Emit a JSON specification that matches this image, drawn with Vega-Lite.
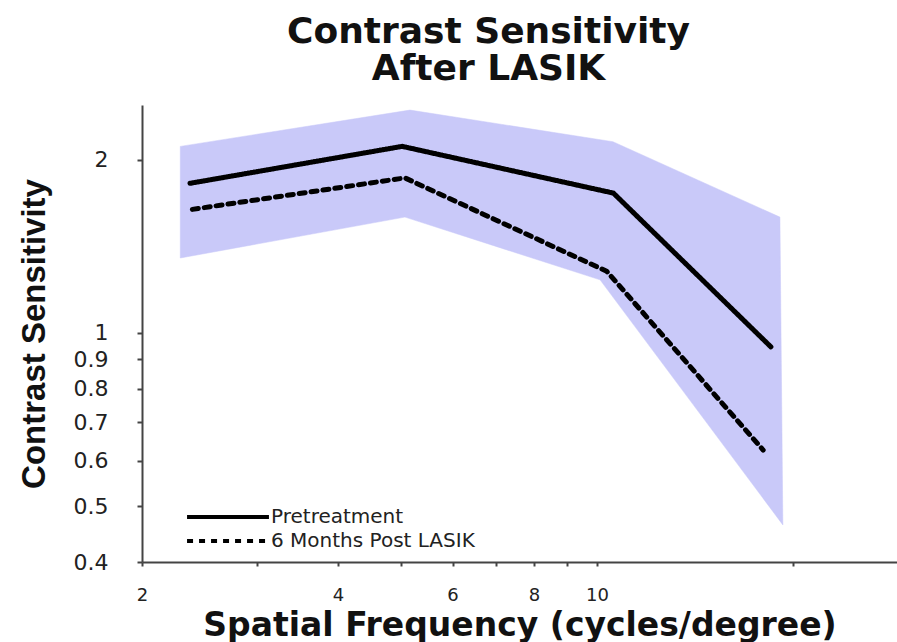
{
  "$schema": "https://vega.github.io/schema/vega-lite/v6.json",
  "width": 755,
  "height": 457,
  "autosize": {"type": "none"},
  "padding": {"left": 142, "top": 105, "right": 0, "bottom": 80},
  "background": "white",
  "config": {"view": {"stroke": null}, "axis": {"grid": false}},
  "title": {
    "text": ["Contrast Sensitivity", "After LASIK"],
    "font": "DejaVu Sans",
    "fontSize": 36,
    "fontWeight": "bold",
    "color": "#111111",
    "lineHeight": 37,
    "anchor": "middle",
    "dx": -31,
    "offset": 17
  },
  "datasets": {
    "band": [
      {"i": 0, "freq": 2.29, "cs": 2.11},
      {"i": 1, "freq": 5.16, "cs": 2.44},
      {"i": 2, "freq": 10.58, "cs": 2.15},
      {"i": 3, "freq": 19.1, "cs": 1.59},
      {"i": 4, "freq": 19.3, "cs": 0.464},
      {"i": 5, "freq": 10.11, "cs": 1.237},
      {"i": 6, "freq": 5.07, "cs": 1.59},
      {"i": 7, "freq": 2.29, "cs": 1.35}
    ],
    "curves": [
      {"series": "Pretreatment", "freq": 2.37, "cs": 1.82},
      {"series": "Pretreatment", "freq": 5.02, "cs": 2.11},
      {"series": "Pretreatment", "freq": 10.6, "cs": 1.75},
      {"series": "Pretreatment", "freq": 18.5, "cs": 0.946},
      {"series": "6 Months Post LASIK", "freq": 2.39, "cs": 1.64},
      {"series": "6 Months Post LASIK", "freq": 5.07, "cs": 1.86},
      {"series": "6 Months Post LASIK", "freq": 10.35, "cs": 1.28},
      {"series": "6 Months Post LASIK", "freq": 18.0, "cs": 0.626}
    ]
  },
  "layer": [
    {
      "data": {"name": "band"},
      "mark": {"type": "line", "fill": "#c9c9f9", "stroke": "#c9c9f9", "strokeWidth": 0.5, "interpolate": "linear-closed"},
      "encoding": {
        "x": {
          "field": "freq",
          "type": "quantitative",
          "scale": {"type": "log", "domain": [2, 28.9], "nice": false},
          "axis": {
            "title": "Spatial Frequency (cycles/degree)",
            "values": [2, 3, 4, 5, 6, 7, 8, 9, 10, 20],
            "labelExpr": "indexof([2,4,6,8,10], datum.value) >= 0 ? format(datum.value, 'd') : ''",
            "labelFont": "DejaVu Sans",
            "labelFontSize": 18,
            "labelColor": "#222222",
            "labelPadding": 20,
            "labelFlush": false,
            "labelOverlap": false,
            "tickSize": 4,
            "tickWidth": 2,
            "tickColor": "#444444",
            "domainColor": "#444444",
            "domainWidth": 2,
            "titleFont": "DejaVu Sans",
            "titleFontSize": 33,
            "titleFontWeight": "bold",
            "titleColor": "#111111",
            "titleBaseline": "alphabetic",
            "titleAnchor": "middle",
            "titleY": 73,
            "encode": {"ticks": {"update": {"y2": {"signal": "datum.value === 10 ? 10 : 4"}}}}
          }
        },
        "y": {
          "field": "cs",
          "type": "quantitative",
          "scale": {"type": "log", "domain": [0.4, 2.49], "nice": false},
          "axis": {
            "title": "Contrast Sensitivity",
            "values": [0.4, 0.5, 0.6, 0.7, 0.8, 0.9, 1, 2],
            "format": "~g",
            "labelFont": "DejaVu Sans",
            "labelFontSize": 22,
            "labelColor": "#222222",
            "labelPadding": 29,
            "labelOverlap": false,
            "labelFlush": false,
            "tickSize": 5,
            "tickWidth": 2,
            "tickColor": "#444444",
            "domainColor": "#444444",
            "domainWidth": 2,
            "titleFont": "Liberation Sans",
            "titleFontSize": 33,
            "titleFontWeight": "bold",
            "titleColor": "#111111",
            "titleBaseline": "alphabetic",
            "titleAlign": "center",
            "titleX": -98,
            "titleY": 228.5
          }
        },
        "order": {"field": "i", "type": "quantitative"}
      }
    },
    {
      "data": {"name": "curves"},
      "mark": {"type": "line", "color": "black", "strokeWidth": 5, "strokeCap": "round"},
      "encoding": {
        "x": {"field": "freq", "type": "quantitative"},
        "y": {"field": "cs", "type": "quantitative"},
        "strokeDash": {
          "field": "series",
          "type": "nominal",
          "scale": {"domain": ["Pretreatment", "6 Months Post LASIK"], "range": [[1, 0], [6, 6]]},
          "legend": {
            "orient": "none",
            "legendX": 75,
            "legendY": 401,
            "title": null,
            "padding": 0,
            "symbolType": "M-4.55,0L4.55,0",
            "symbolSize": 324,
            "symbolStrokeWidth": 4,
            "symbolStrokeColor": "black",
            "symbolFillColor": "transparent",
            "labelFont": "DejaVu Sans",
            "labelFontSize": 20,
            "labelColor": "#222222",
            "labelOffset": 32,
            "labelLimit": 400,
            "rowPadding": 3
          }
        }
      }
    }
  ]
}
